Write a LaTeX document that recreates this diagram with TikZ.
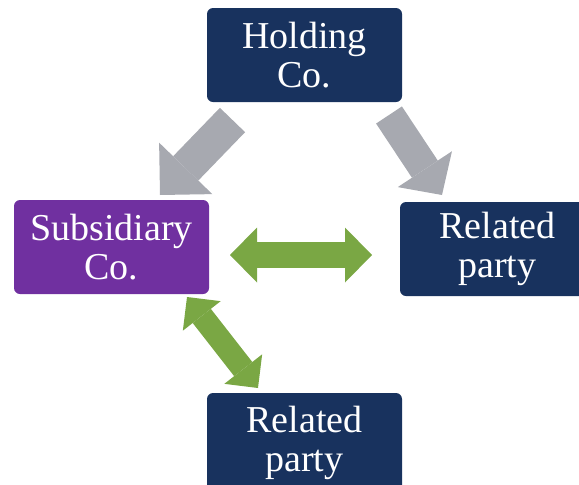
\documentclass[tikz,border=0pt]{standalone}
\usepackage{fontspec}
\setmainfont{Liberation Serif}
\usetikzlibrary{arrows.meta}
\definecolor{NavyClr}{RGB}{24,50,94}
\definecolor{PurpleClr}{RGB}{112,48,160}
\definecolor{GreenClr}{RGB}{122,167,68}
\definecolor{GreyClr}{RGB}{167,169,176}

\begin{document}
\begin{tikzpicture}[x=1pt,y=-1pt,
  box/.style={fill=NavyClr,rounded corners=6pt,minimum width=195pt,minimum height=94pt,
    text=white,align=center,inner sep=0pt,font=\fontsize{38}{39}\selectfont},
  greyarrow/.style={GreyClr,line width=#1},
  greenarrow/.style={GreenClr,line width=#1}]
\useasboundingbox (0,0) rectangle (579,485);
\clip (0,0) rectangle (579,485);

\node[box] (holding) at (304.5,55) {Holding\\Co.};
\node[box,fill=PurpleClr] (subsidiary) at (111.5,247) {Subsidiary\\Co.};
\node[box] (relright) at (497.5,249) {Related\\party};
\node[box,minimum height=100pt] (relbottom) at (304.5,443) {Related\\party};

\coordinate (hs) at (232.5,120);
\coordinate (sh) at (160,195);
\coordinate (hr) at (389,115);
\coordinate (rh) at (442,195);
\coordinate (sr) at (230,255);
\coordinate (rs) at (372,255);
\coordinate (sb) at (187,297);
\coordinate (bs) at (258,388);

\draw[greyarrow=35pt,-{Triangle[width=74pt,length=37pt,line width=0pt]}] (hs) -- (sh);
\draw[greyarrow=31pt,-{Triangle[width=65pt,length=31pt,line width=0pt]}] (hr) -- (rh);
\draw[greenarrow=26pt,{Triangle[width=55pt,length=27pt,line width=0pt]}-{Triangle[width=55pt,length=27pt,line width=0pt]}] (sr) -- (rs);
\draw[greenarrow=23pt,{Triangle[width=48pt,length=24pt,line width=0pt]}-{Triangle[width=48pt,length=24pt,line width=0pt]}] (sb) -- (bs);

\end{tikzpicture}
\end{document}
